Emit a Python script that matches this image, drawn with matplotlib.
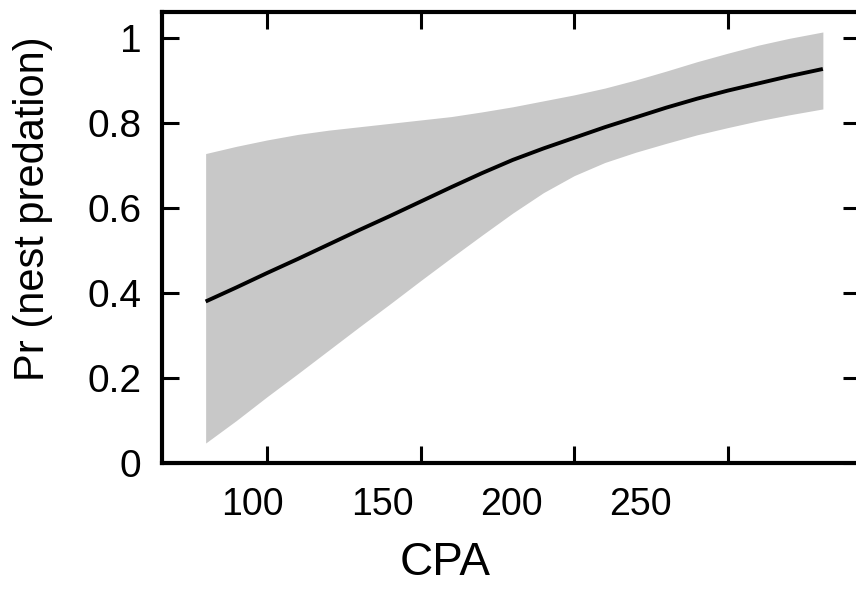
"""
Predicted nest predation vs CPA with confidence band
"""

import matplotlib.pyplot as plt
import numpy as np

# values
cpa = [80, 90, 100, 110, 120, 130, 140, 150, 160, 170, 180,
       190, 200, 210, 220, 230, 240, 250, 260, 270, 281]
fit = [0.380, 0.413, 0.447, 0.480, 0.514, 0.548, 0.581, 0.615, 0.649, 0.682, 0.713,
       0.740, 0.765, 0.790, 0.813, 0.836, 0.857, 0.876, 0.893, 0.910, 0.927]
lower = [0.047, 0.100, 0.156, 0.210, 0.265, 0.320, 0.374, 0.429, 0.483, 0.536, 0.588,
         0.636, 0.676, 0.707, 0.731, 0.752, 0.772, 0.789, 0.805, 0.819, 0.833]
upper = [0.728, 0.745, 0.760, 0.773, 0.783, 0.791, 0.799, 0.807, 0.815, 0.826, 0.838,
         0.852, 0.866, 0.882, 0.901, 0.922, 0.944, 0.964, 0.983, 0.999, 1.014]

xticks = [100, 150, 200, 250]
yticks = [0, 0.2, 0.4, 0.6, 0.8, 1]
ytick_labels = ["0", "0.2", "0.4", "0.6", "0.8", "1"]

plt.rcParams['font.family'] = ['Liberation Sans', 'DejaVu Sans']

fig = plt.figure(figsize=(8.56, 5.94), dpi=100)
ax = fig.add_axes([0.1893, 0.2205, 0.8154, 0.7593])

ax.fill_between(cpa, lower, upper, color="#c8c8c8", linewidth=0)
ax.plot(cpa, fit, color="black", linewidth=2.8, solid_capstyle="butt")

ax.set_xlim(65.8, 293.1)
ax.set_ylim(0, 1.061)

for s in ax.spines.values():
    s.set_linewidth(3)

ax.set_xticks(xticks)
ax.set_yticks(yticks)
ax.set_yticklabels(ytick_labels)
ax.tick_params(direction="in", length=12, width=2.2, top=True, right=True,
               labelbottom=False, labelsize=28, pad=15)

# tick labels in the source sit on a slightly narrower scale than the ticks
def fwd(x):
    return 175 + (np.asarray(x) - 158.53) / 0.8424

def inv(v):
    return 158.53 + (np.asarray(v) - 175) * 0.8424

sec = ax.secondary_xaxis('bottom', functions=(fwd, inv))
sec.set_xticks(xticks)
sec.spines['bottom'].set_visible(False)
sec.tick_params(length=0, labelsize=27, pad=17)

fig.text(0.520, 0.052, "CPA", fontsize=33, ha="center", va="center")
fig.text(0.039, 0.648, "Pr (nest predation)", fontsize=30, rotation=90,
         ha="center", va="center")

fig.savefig("out.png", dpi=100)
